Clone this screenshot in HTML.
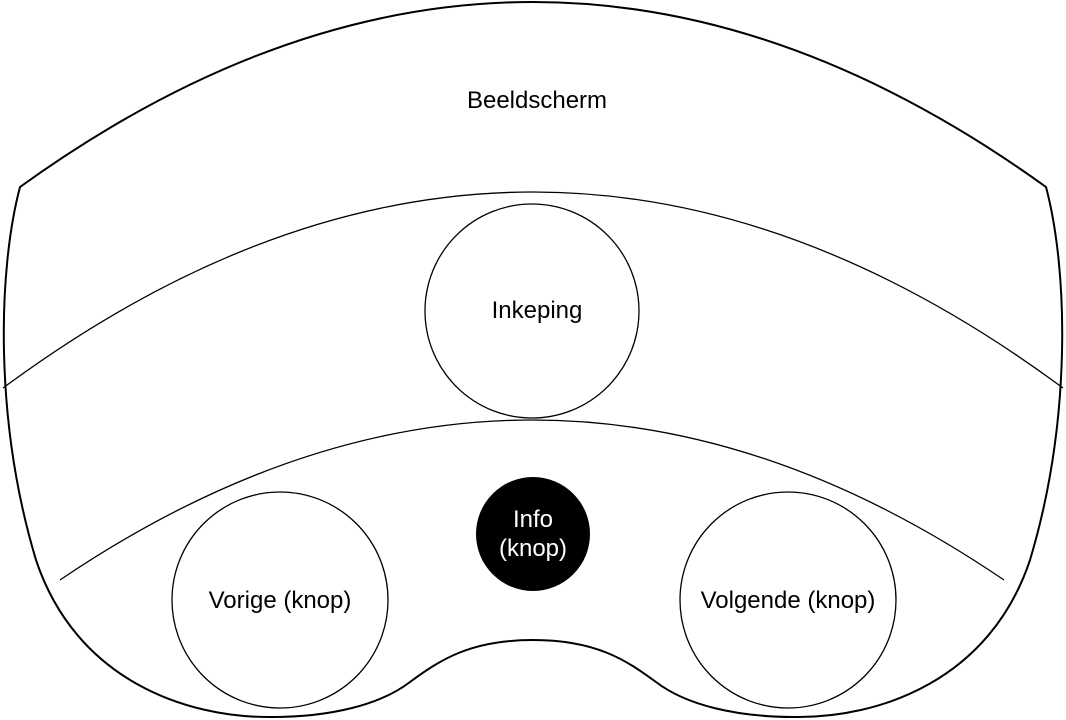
<!DOCTYPE html>
<html><head><style>
html,body{margin:0;padding:0;background:#fff;}
svg{display:block}
text{font-family:"Liberation Sans",sans-serif;font-size:24px;text-anchor:middle;}
</style></head><body>
<svg width="1066" height="720" viewBox="0 0 1066 720">
<path d="M20,187 Q533,-183 1046,187 C1068,270 1072,420 1030,560 C990,680 880,718 795,717 C736,717 686,705 656,682 C626,660 596,640 533,640 C470,640 440,660 410,682 C380,705 330,717 272,717 C186,718 76,680 36,560 C-6,420 -2,270 20,187 Z" fill="none" stroke="#000" stroke-width="2"/>
<path d="M3,388 Q533,-4 1063,388" fill="none" stroke="#000" stroke-width="1.3"/>
<path d="M60,580 Q533,260 1004,580" fill="none" stroke="#000" stroke-width="1.3"/>
<circle cx="532" cy="311" r="107" fill="#fff" stroke="#000" stroke-width="1.3"/>
<circle cx="533" cy="534" r="57" fill="#000"/>
<circle cx="280" cy="600" r="108" fill="#fff" stroke="#000" stroke-width="1.3"/>
<circle cx="788" cy="600" r="108" fill="#fff" stroke="#000" stroke-width="1.3"/>
<text x="537" y="108">Beeldscherm</text>
<text x="537" y="318">Inkeping</text>
<text x="533" y="527" fill="#fff">Info</text>
<text x="533" y="556" fill="#fff">(knop)</text>
<text x="280" y="608">Vorige (knop)</text>
<text x="788" y="608">Volgende (knop)</text>
</svg>
</body></html>
